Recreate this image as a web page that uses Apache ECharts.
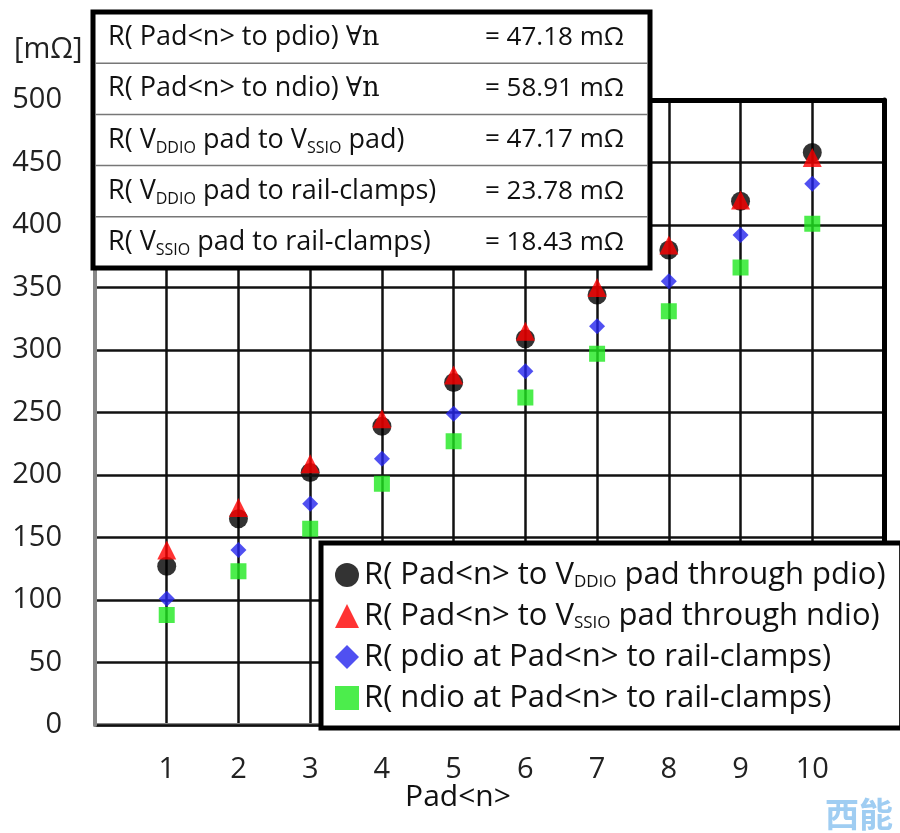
<!DOCTYPE html>
<html lang="en">
<head>
    <meta charset="UTF-8">
    <title>Pad resistance</title>
    <script src="https://cdn.jsdelivr.net/npm/echarts@6/dist/echarts.min.js"></script>
    <style>
        html, body { margin: 0; padding: 0; background: #fff; }
        #main { width: 900px; height: 833px; }
    </style>
</head>
<body>
    <div id="main"></div>
<script>
    // 数据
    var pads = [1, 2, 3, 4, 5, 6, 7, 8, 9, 10];
    var pdioToVddio = [127, 165, 202, 239, 274, 309, 344, 380, 419, 458];
    var ndioToVssio = [140, 174, 209, 245, 280, 315, 350, 384, 420, 454];
    var pdioToClamp = [101, 140, 177, 213, 249, 283, 319, 355, 392, 433];
    var ndioToClamp = [88, 123, 157, 193, 227, 262, 297, 331, 366, 401];

    var tableLabels = [
        'R( Pad<n> to pdio) {m|∀n}',
        'R( Pad<n> to ndio) {m|∀n}',
        'R( V{s|DDIO} pad to V{s|SSIO} pad)',
        'R( V{s|DDIO} pad to rail-clamps)',
        'R( V{s|SSIO} pad to rail-clamps)'
    ];
    var tableValues = ['= 47.18 mΩ', '= 58.91 mΩ', '= 47.17 mΩ', '= 23.78 mΩ', '= 18.43 mΩ'];

    var seriesNames = [
        'R( Pad<n> to VDDIO pad through pdio)',
        'R( Pad<n> to VSSIO pad through ndio)',
        'R( pdio at Pad<n> to rail-clamps)',
        'R( ndio at Pad<n> to rail-clamps)'
    ];
    var legendRich = {
        'R( Pad<n> to VDDIO pad through pdio)': 'R( Pad<n> to V{s|DDIO} pad through pdio)',
        'R( Pad<n> to VSSIO pad through ndio)': 'R( Pad<n> to V{s|SSIO} pad through ndio)'
    };

    var FONT = '"Open Sans", sans-serif';

    function pairs(vals) {
        return pads.map(function (p, i) { return [p, vals[i]]; });
    }

    var myChart = echarts.init(document.getElementById('main'));

    // 表格（左上角）
    var tableEls = [];
    var tx = 93, ty = 12, tw = 557, rowH = 51.2;
    tableEls.push({
        type: 'rect', z: 10,
        shape: { x: tx, y: ty, width: tw, height: rowH * 5 },
        style: { fill: '#fff', stroke: '#000', lineWidth: 5 }
    });
    for (var i = 1; i < 5; i++) {
        tableEls.push({
            type: 'line', z: 11,
            shape: { x1: tx + 2, y1: ty + rowH * i, x2: tx + tw - 2, y2: ty + rowH * i },
            style: { stroke: '#777', lineWidth: 1.5 }
        });
    }
    var subRich = {
        s: { fontSize: 16, fontFamily: FONT, lineHeight: 15, verticalAlign: 'bottom', fill: '#111' },
        m: { fontSize: 27, fontFamily: '"DejaVu Serif", serif', lineHeight: 32, fill: '#111' }
    };
    for (var j = 0; j < 5; j++) {
        var cy = ty + rowH * (j + 0.5);
        tableEls.push({
            type: 'text', z: 12,
            style: {
                x: 108, y: cy, text: tableLabels[j], fill: '#111',
                fontSize: 27, fontFamily: FONT, lineHeight: 32,
                verticalAlign: 'middle', align: 'left', rich: subRich
            }
        });
        tableEls.push({
            type: 'text', z: 12,
            style: {
                x: 624, y: cy, text: tableValues[j], fill: '#111',
                fontSize: 26, fontFamily: FONT,
                verticalAlign: 'middle', align: 'right'
            }
        });
    }

    var option = {
        animation: false,
        backgroundColor: '#fff',
        grid: { left: 95, right: 16, top: 100, bottom: 108 },
        xAxis: [{
            type: 'value', min: 0, max: 11, interval: 1, z: 1,
            axisLine: { show: true, onZero: false, lineStyle: { color: '#888', width: 4 } },
            axisTick: { show: false },
            axisLabel: {
                fontSize: 29, fontFamily: FONT, color: '#222', margin: 30,
                formatter: function (v) { return (v >= 1 && v <= 10) ? String(v) : ''; }
            },
            splitLine: { show: true, lineStyle: { color: '#111', width: 2.5 } }
        }, {
            type: 'value', min: 0, max: 11, position: 'top', z: 3,
            axisLine: { show: true, onZero: false, lineStyle: { color: '#000', width: 5 } },
            axisTick: { show: false }, axisLabel: { show: false }, splitLine: { show: false }
        }],
        yAxis: [{
            type: 'value', min: 0, max: 500, interval: 50, z: 3,
            axisLine: { show: true, onZero: false, lineStyle: { color: '#888', width: 4 } },
            axisTick: { show: false },
            axisLabel: { fontSize: 29, fontFamily: FONT, color: '#222', margin: 33 },
            splitLine: { show: true, lineStyle: { color: '#111', width: 2.5 } }
        }, {
            type: 'value', min: 0, max: 500, position: 'right', z: 3,
            axisLine: { show: true, onZero: false, lineStyle: { color: '#000', width: 5 } },
            axisTick: { show: false }, axisLabel: { show: false }, splitLine: { show: false }
        }],
        legend: {
            orient: 'vertical',
            left: 321, top: 543,
            z: 20,
            backgroundColor: '#fff',
            borderColor: '#000', borderWidth: 5,
            padding: [16, 16, 14, 14],
            itemWidth: 24, itemHeight: 24, itemGap: 9,
            data: [
                { name: seriesNames[0], icon: 'circle' },
                { name: seriesNames[1], icon: 'triangle' },
                { name: seriesNames[2], icon: 'diamond' },
                { name: seriesNames[3], icon: 'rect' }
            ],
            formatter: function (name) { return legendRich[name] || name; },
            textStyle: {
                fontSize: 31, fontFamily: FONT, color: '#111', lineHeight: 32,
                rich: {
                    s: { fontSize: 17, fontFamily: FONT, color: '#111', lineHeight: 16, verticalAlign: 'bottom' }
                }
            }
        },
        series: [{
            name: seriesNames[0], type: 'scatter', symbol: 'circle', symbolSize: 19,
            itemStyle: { color: '#000' }, data: pairs(pdioToVddio), z: 2
        }, {
            name: seriesNames[1], type: 'scatter', symbol: 'triangle', symbolSize: 19,
            itemStyle: { color: '#f00' }, data: pairs(ndioToVssio), z: 3
        }, {
            name: seriesNames[2], type: 'scatter', symbol: 'diamond', symbolSize: 16,
            itemStyle: { color: '#2424ee' }, data: pairs(pdioToClamp), z: 4
        }, {
            name: seriesNames[3], type: 'scatter', symbol: 'rect', symbolSize: 16,
            itemStyle: { color: '#1fe81f' }, data: pairs(ndioToClamp), z: 5
        }],
        graphic: tableEls.concat([{
            type: 'text', z: 12,
            style: { x: 14, y: 50, text: '[mΩ]', fill: '#222', fontSize: 29, fontFamily: FONT, verticalAlign: 'middle' }
        }, {
            type: 'text', z: 12,
            style: { x: 458, y: 797, text: 'Pad<n>', fill: '#111', fontSize: 30, fontFamily: FONT, align: 'center', verticalAlign: 'middle' }
        }, {
            type: 'text', z: 12,
            style: { x: 825, y: 814, text: '西能', fill: '#9fcdf2', fontSize: 34, fontWeight: 'bold', fontFamily: '"Noto Sans CJK SC", sans-serif', verticalAlign: 'middle' }
        }])
    };

    myChart.setOption(option);
</script>
</body>
</html>
